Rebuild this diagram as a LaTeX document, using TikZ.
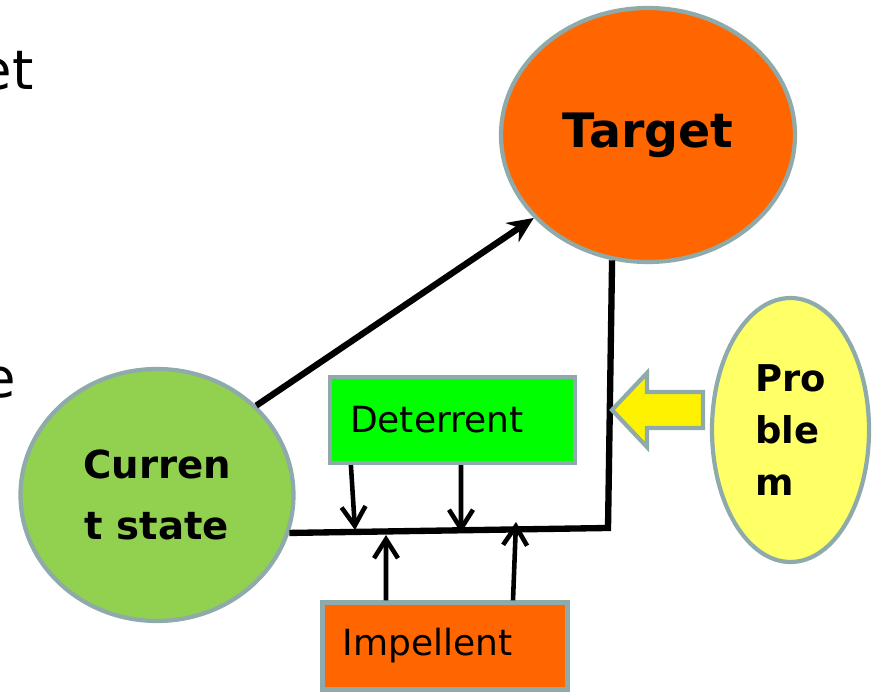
\documentclass[tikz,border=0pt]{standalone}
\usepackage{fontspec}
\setmainfont{DejaVu Sans}
\usepackage{tikz}
\usetikzlibrary{shapes.geometric,arrows.meta}

\definecolor{edgegray}{RGB}{143,170,170}
\definecolor{orangefill}{RGB}{255,102,0}
\definecolor{greenfill}{RGB}{146,208,80}
\definecolor{paleyellow}{RGB}{255,255,102}
\definecolor{brightgreen}{RGB}{0,255,0}

\tikzset{
	blob/.style={ellipse, draw=edgegray, line width=2.4pt, inner sep=0pt},
	factor/.style={rectangle, draw=edgegray, line width=2.4pt, text width=4.1cm, inner xsep=0.4cm, inner ysep=0pt, align=left, font=\fontsize{20.5pt}{24pt}\selectfont},
	link/.style={line width=3.6pt},
	push/.style={line width=2.6pt, -{Straight Barb[length=3.8mm,width=4.8mm]}},
	cutoff/.style={inner sep=0pt, font=\fontsize{31pt}{36pt}\selectfont}
}

\begin{document}
\begin{tikzpicture}
	\useasboundingbox (0,0) rectangle (17.5,13.84);
	\node[cutoff, anchor=base east] (et) at (0.68,12.04) {et};
	\node[cutoff, anchor=base east] (e) at (0.32,5.88) {e};
	\node[blob, fill=orangefill, minimum width=5.88cm, minimum height=5.08cm, font=\bfseries\fontsize{27pt}{30pt}\selectfont] (tgt) at (12.96,11.14) {Target};
	\node[blob, fill=greenfill, minimum width=5.46cm, minimum height=5.04cm, align=center, font=\bfseries\fontsize{22pt}{35pt}\selectfont] (cur) at (3.14,3.94) {Curren\\t state};
	\node[blob, fill=paleyellow, minimum width=3.14cm, minimum height=5.28cm, align=left, font=\bfseries\fontsize{21pt}{29.6pt}\selectfont] (prob) at (15.81,5.24) {Pro\\ble\\m};
	\node[factor, fill=brightgreen, minimum height=1.72cm] (det) at (9.05,5.44) {Deterrent};
	\node[factor, fill=orangefill, minimum height=1.74cm] (imp) at (8.9,0.92) {Impellent};
	\coordinate (jn) at (12.16,3.28);
	\coordinate (d1) at (7.1,3.24);
	\coordinate (d2) at (9.22,3.18);
	\coordinate (i1) at (7.72,3.14);
	\coordinate (i2) at (10.32,3.40);
	\draw[link] (cur.-16) -- (jn) -- (tgt.-106);
	\draw[link, -{Stealth[length=5.2mm,width=4.6mm]}] (cur.42) -- (tgt.216);
	\draw[push] ([xshift=4.6mm]det.south west) -- (d1);
	\draw[push] ([xshift=1.7mm]det.south) -- (d2);
	\draw[push] ([xshift=-11.8mm]imp.north) -- (i1);
	\draw[push] ([xshift=13.6mm]imp.north) -- (i2);
	\filldraw[fill=yellow, draw=edgegray, line width=2.4pt] (12.24,5.64) -- (12.94,6.38) -- (12.94,6.0) -- (14.06,6.0) -- (14.06,5.28) -- (12.94,5.28) -- (12.94,4.9) -- cycle;
\end{tikzpicture}
\end{document}
